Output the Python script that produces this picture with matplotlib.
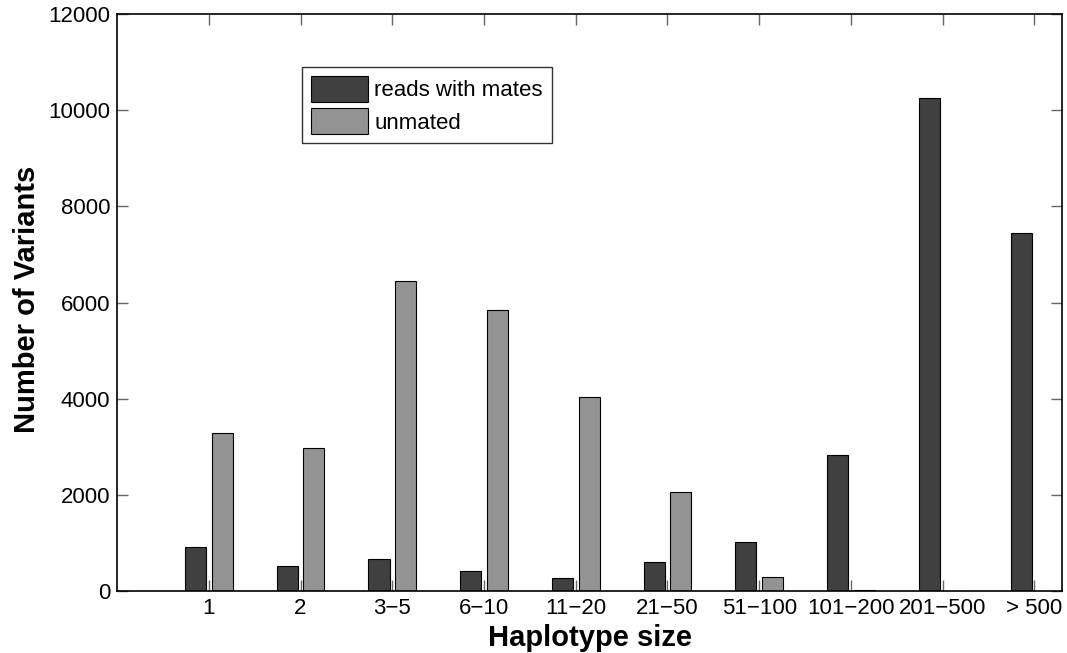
import numpy as np
import matplotlib
matplotlib.use("Agg")
import matplotlib.pyplot as plt

plt.rcParams["font.family"] = ["Liberation Sans", "DejaVu Sans"]

# haplotype size bins
categories = ["1", "2", "3\u22125", "6\u221210", "11\u221220", "21\u221250",
              "51\u2212100", "101\u2212200", "201\u2212500", "> 500"]

# number of variants per bin
with_mates = [915, 520, 670, 415, 278, 602, 1025, 2830, 10245, 7450]
unmated = [3290, 2980, 6450, 5840, 4025, 2055, 290, 12, 8, 8]

series_names = ["reads with mates", "unmated"]

x = np.arange(1, len(categories) + 1)
width = 0.23

fig = plt.figure(figsize=(10.67, 6.53), dpi=100)
ax = fig.add_axes([0.1097, 0.0949, 0.9953 - 0.1097, 0.9786 - 0.0949])

ax.bar(x - 0.145, with_mates, width, color="#404040",
       edgecolor="black", linewidth=0.8, label=series_names[0])
ax.bar(x + 0.145, unmated, width, color="#939393",
       edgecolor="black", linewidth=0.8, label=series_names[1])

ax.set_xlim(0, 10.3)
ax.set_ylim(0, 12000)
ax.set_xticks(x)
ax.set_xticklabels(categories)
ax.set_yticks(np.arange(0, 12001, 2000))

ax.tick_params(direction="in", length=8, width=1, color="#666666",
               top=True, right=True, labelsize=16, pad=5)
for spine in ax.spines.values():
    spine.set_linewidth(1.2)

ax.set_xlabel("Haplotype size", fontsize=21, fontweight="bold")
ax.xaxis.set_label_coords(0.5, -0.058)
ax.set_ylabel("Number of Variants", fontsize=21, fontweight="bold")
ax.yaxis.set_label_coords(-0.081, 0.505)

leg = ax.legend(loc="upper left", bbox_to_anchor=(0.196, 0.908),
                fontsize=16, frameon=True, fancybox=False,
                handlelength=2.55, handleheight=1.4, handletextpad=0.3,
                borderpad=0.4, labelspacing=0.3, borderaxespad=0)
leg.get_frame().set_edgecolor("black")
leg.get_frame().set_linewidth(1.0)

fig.savefig("out.png", dpi=100)
